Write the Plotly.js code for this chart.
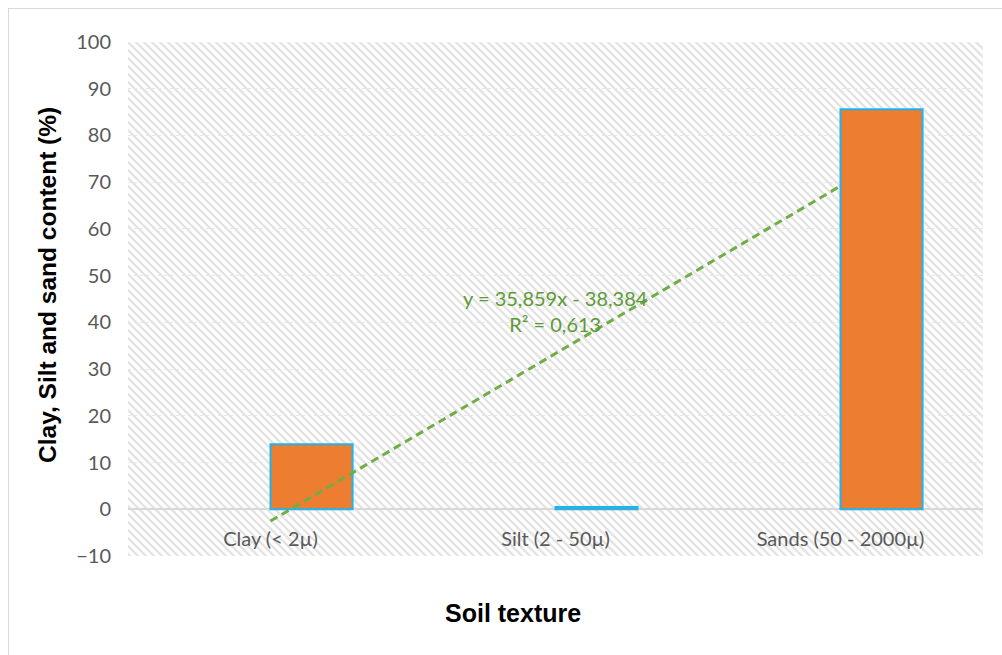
<!DOCTYPE html>
<html>
<head>
<meta charset="utf-8">
<script src="https://cdn.plot.ly/plotly-3.0.1.min.js"></script>
<style>
  html, body { margin: 0; padding: 0; background: #fff; overflow: hidden; }
  #wrap { position: relative; width: 1002px; height: 655px; overflow: hidden; }
  #chart { width: 1002px; height: 655px; }
  #frame { position: absolute; left: 8px; top: 8px; width: 1200px; height: 900px;
           border: 1px solid #d9d9d9; pointer-events: none; box-sizing: border-box; }
</style>
</head>
<body>
<div id="wrap">
  <div id="chart"></div>
  <div id="frame"></div>
</div>
<script>
// ---- data ----
const categories = ["Clay (< 2\u00b5)", "Silt (2 - 50\u00b5)", "Sands (50 - 2000\u00b5)"];
const categoryPos = [1, 2, 3];
const contentValues = [13.9, 0.48, 85.62];
const trendSlope = 35.859;
const trendIntercept = -38.384;
const trendLabel = "y = 35,859x - 38,384<br>R\u00b2 = 0,613";
const xTitle = "Soil texture";
const yTitle = "Clay, Silt and sand content (%)";
const yTickValues = [-10, 0, 10, 20, 30, 40, 50, 60, 70, 80, 90, 100];

// ---- layout geometry ----
const W = 1002, H = 655;
const margin = { l: 128, r: 19, t: 42, b: 99 };
const plotW = W - margin.l - margin.r;
const plotH = H - margin.t - margin.b;
const yMin = -10, yMax = 100;

// hatch pattern background
const hatchSvg =
  '<svg xmlns="http://www.w3.org/2000/svg" width="' + plotW + '" height="' + plotH + '">' +
  '<defs><pattern id="p" width="8" height="8" patternUnits="userSpaceOnUse">' +
  '<rect width="8" height="8" fill="#ffffff"/>' +
  '<path d="M-2,-2 L10,10 M-2,6 L2,10 M6,-2 L10,2" stroke="#e4e4e4" stroke-width="2.4"/>' +
  '</pattern></defs>' +
  '<rect width="100%" height="100%" fill="url(#p)"/></svg>';
const hatchSrc = 'data:image/svg+xml;charset=utf-8,' + encodeURIComponent(hatchSvg);

const trendX = [categoryPos[0], categoryPos[categoryPos.length - 1]];
const trendY = trendX.map(x => trendSlope * x + trendIntercept);

const barTrace = {
  type: 'bar',
  x: categoryPos,
  y: contentValues,
  offset: 0,
  width: 0.288,
  marker: { color: '#ED7D31', line: { color: '#1EB4EE', width: 2 } },
  hoverinfo: 'skip',
  showlegend: false
};

const trendTrace = {
  type: 'scatter',
  mode: 'lines',
  x: trendX,
  y: trendY,
  line: { color: '#70AD47', width: 3, dash: '8px,5px' },
  hoverinfo: 'skip',
  showlegend: false,
  cliponaxis: false
};

const zeroFrac = (0 - yMin) / (yMax - yMin);
const titleFont = { family: '"Liberation Sans", Arial, sans-serif', size: 25, color: '#000', weight: 'bold' };

const layout = {
  width: W, height: H,
  margin: margin,
  paper_bgcolor: 'rgba(0,0,0,0)',
  plot_bgcolor: 'rgba(0,0,0,0)',
  showlegend: false,
  xaxis: {
    range: [0.5, 3.5],
    tickvals: categoryPos,
    ticktext: categories,
    showgrid: false,
    zeroline: false,
    showline: false,
    ticks: '',
    anchor: 'free',
    position: zeroFrac,
    ticklabelstandoff: 16,
    tickfont: { family: 'Lato, "Open Sans", sans-serif', size: 20, color: '#595959' },
    automargin: false,
    fixedrange: true
  },
  yaxis: {
    range: [yMin, yMax],
    tickvals: yTickValues,
    showgrid: true,
    gridcolor: '#e6e6e6',
    griddash: 'dot',
    gridwidth: 1,
    zeroline: true,
    zerolinecolor: '#d9d9d9',
    zerolinewidth: 2,
    showline: false,
    ticks: '',
    ticklabelstandoff: 16,
    tickfont: { family: 'Lato, "Open Sans", sans-serif', size: 20, color: '#595959' },
    automargin: false,
    fixedrange: true
  },
  images: [{
    source: hatchSrc,
    xref: 'paper', yref: 'paper',
    x: 0, y: 1, sizex: 1, sizey: 1,
    xanchor: 'left', yanchor: 'top',
    sizing: 'stretch',
    layer: 'below'
  }],
  annotations: [
    {
      x: 2, y: 42.4, xref: 'x', yref: 'y',
      text: trendLabel,
      showarrow: false,
      align: 'center',
      font: { family: 'Lato, "Open Sans", sans-serif', size: 20, color: '#5E9A37' }
    },
    {
      // x-axis title, centred on the chart area as in the source
      x: (513 - margin.l) / plotW, y: -(613 - (H - margin.b)) / plotH,
      xref: 'paper', yref: 'paper',
      text: xTitle, showarrow: false,
      xanchor: 'center', yanchor: 'middle',
      font: titleFont
    },
    {
      // y-axis title
      x: -(margin.l - 47) / plotW, y: (H - margin.b - 285) / plotH,
      xref: 'paper', yref: 'paper',
      text: yTitle, showarrow: false, textangle: -90,
      xanchor: 'center', yanchor: 'middle',
      font: Object.assign({}, titleFont, { size: 24.5 })
    }
  ]
};

Plotly.newPlot('chart', [barTrace, trendTrace], layout, { displayModeBar: false, staticPlot: true });
</script>
</body>
</html>
